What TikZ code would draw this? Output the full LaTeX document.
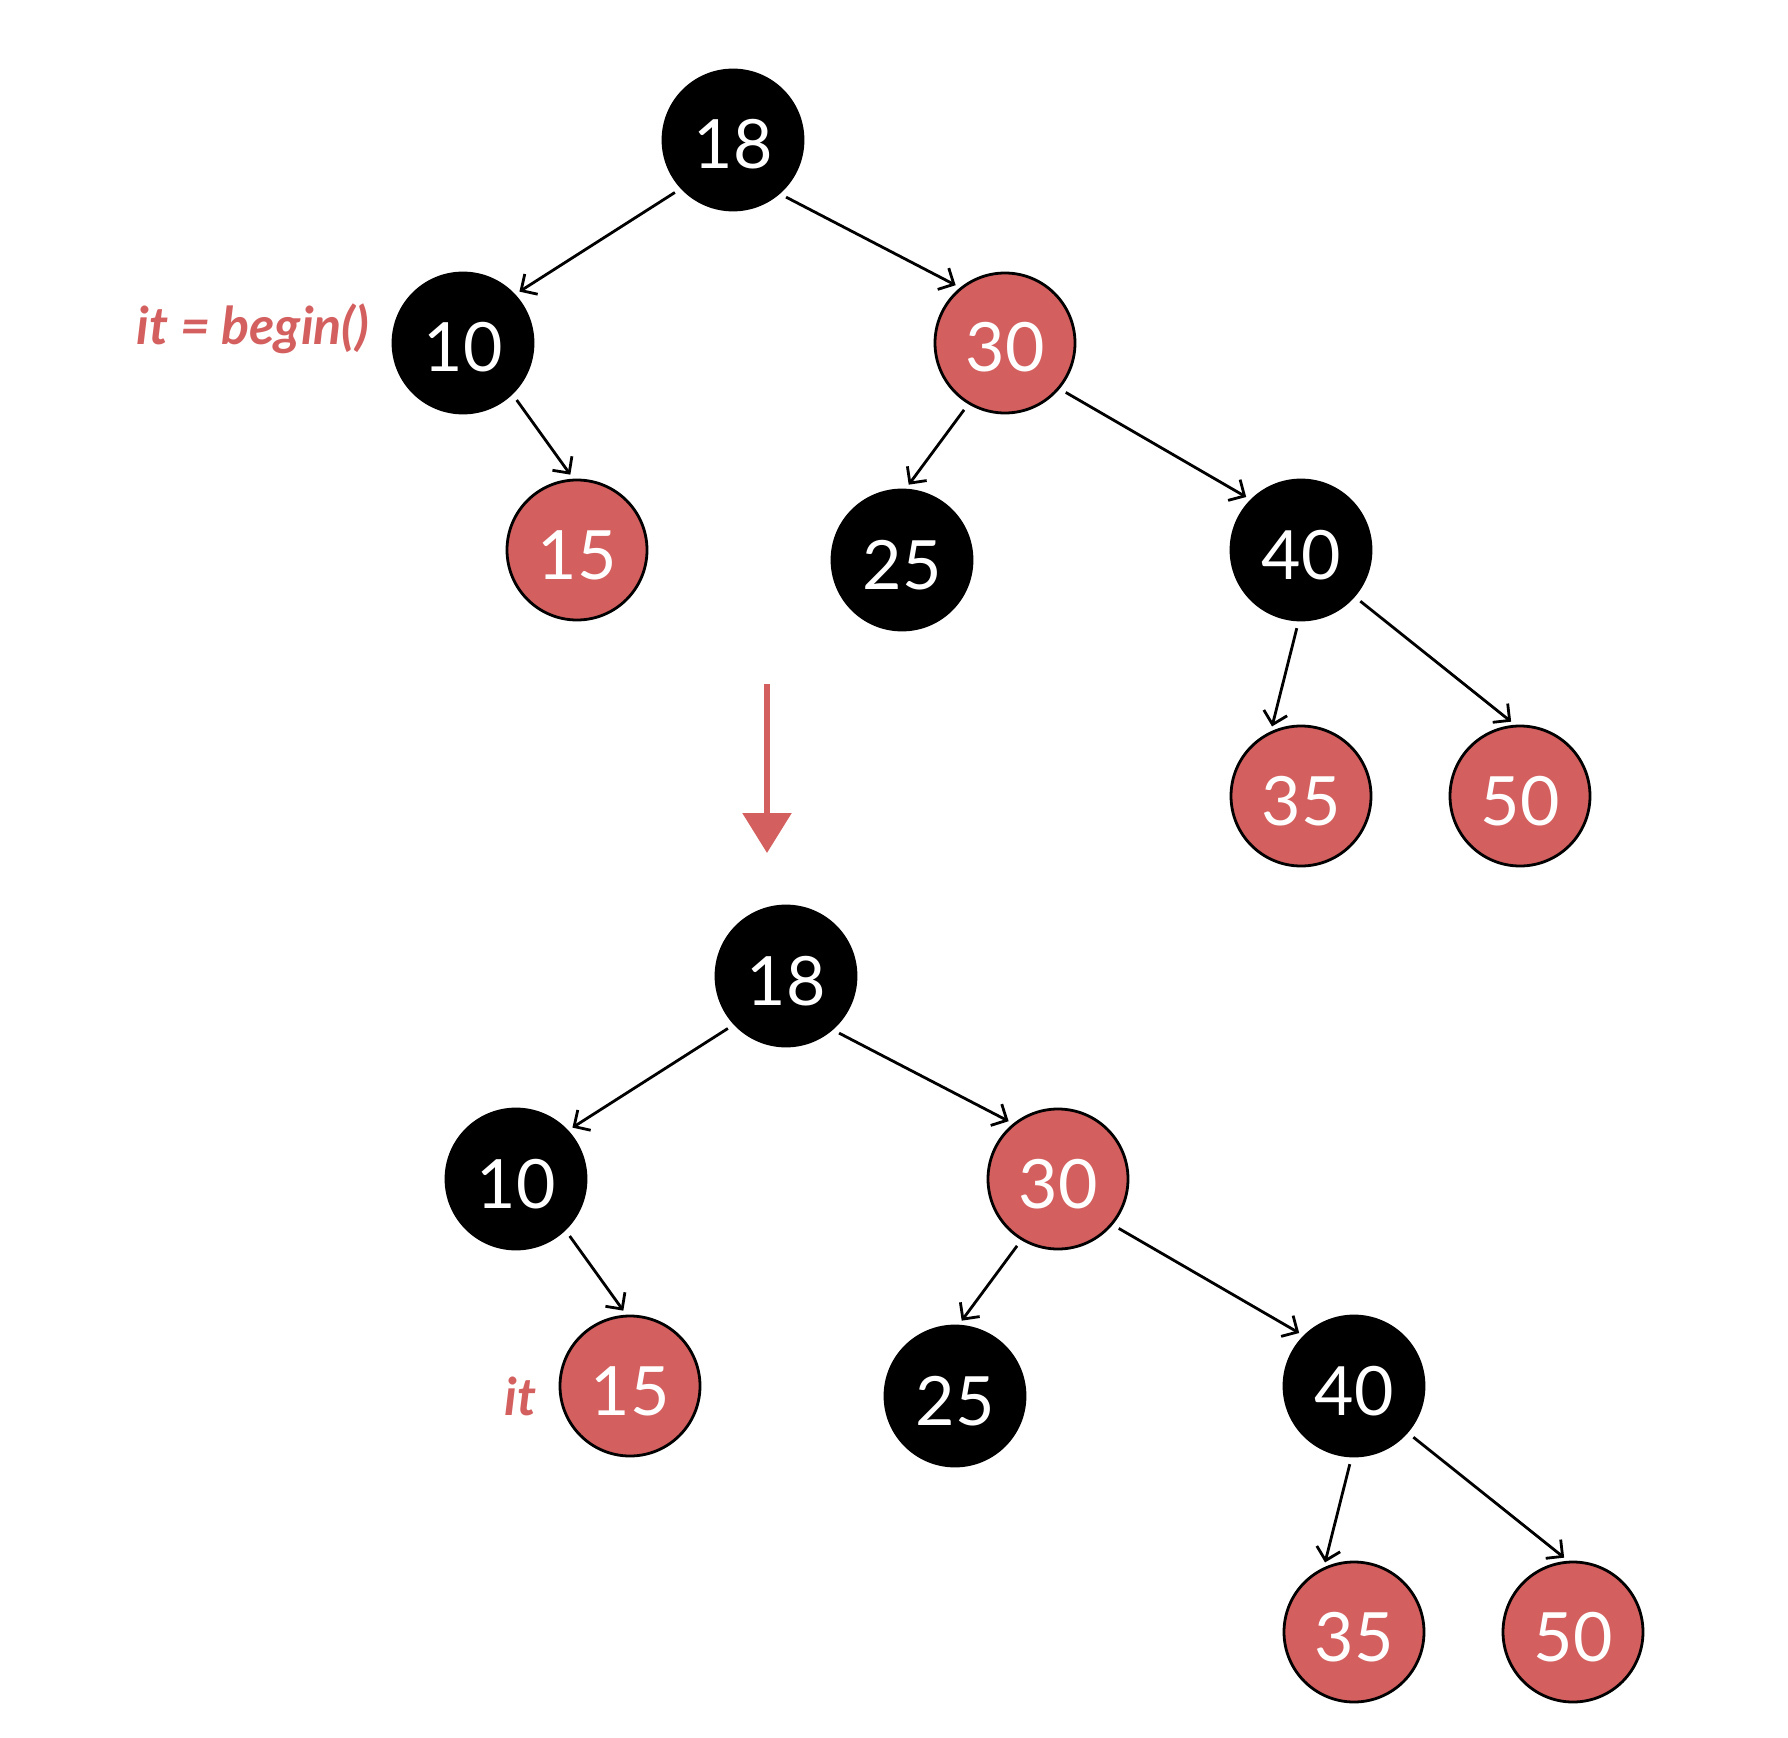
\documentclass[tikz,border=0pt]{standalone}
\usepackage{fontspec}
\setmainfont{Lato}
\usetikzlibrary{arrows.meta}
\definecolor{rbred}{HTML}{D45F5F}

\begin{document}
\begin{tikzpicture}[x=0.5pt,y=-0.5pt]
    \tikzstyle{rbnode}=[circle,minimum size=70pt,inner sep=0pt,draw=black,line width=1.4pt,text=white,text height=29pt,text depth=0pt,font=\fontsize{34}{34}\selectfont]
    \tikzstyle{blknode}=[rbnode,fill=black]
    \tikzstyle{rednode}=[rbnode,fill=rbred]
    \tikzstyle{edge}=[-{Straight Barb[length=6pt,width=12pt]},line width=1.4pt,shorten <=3.5pt,shorten >=2.5pt]
    \tikzstyle{itlabel}=[text=rbred,font=\fontsize{26}{26}\selectfont\bfseries\itshape,inner sep=0pt]
    \useasboundingbox (0,0) rectangle (1788,1738);
    % the same tree twice, before and after
    \foreach \t/\dx/\dy in {a/0/0,b/53/836} {
      \begin{scope}[shift={(\dx,\dy)}]
        \node[blknode] (\t-18) at (733,140) {18};
        \node[blknode] (\t-10) at (463,343) {10};
        \node[rednode] (\t-30) at (1005,343) {30};
        \node[rednode] (\t-15) at (577,550) {15};
        \node[blknode] (\t-25) at (902,560) {25};
        \node[blknode] (\t-40) at (1301,550) {40};
        \node[rednode] (\t-35) at (1301,796) {35};
        \node[rednode] (\t-50) at (1520,796) {50};
        \draw[edge] (\t-18.-137) -- (\t-10.43);
        \draw[edge] (\t-18.-49) -- (\t-30.129);
        \draw[edge] (\t-10.-46) -- (\t-15.93);
        \draw[edge] (\t-30.-121) -- (\t-25.87);
        \draw[edge] (\t-30.-40) -- (\t-40.135);
        \draw[edge] (\t-40.-92) -- (\t-35.115);
        \draw[edge] (\t-40.-41) -- (\t-50.94);
      \end{scope}
    }
    \node[itlabel,anchor=base east] (lbl-begin) at (370,345) {it = begin()};
    \node[itlabel,anchor=base east] (lbl-it) at (537,1415) {it};
    % step arrow
    \coordinate (step-top) at (767,684);
    \coordinate (step-bot) at (767,853);
    \draw[rbred,line width=2.9pt,-{Triangle[length=20pt,width=24pt]}] (step-top) -- (step-bot);
\end{tikzpicture}
\end{document}
